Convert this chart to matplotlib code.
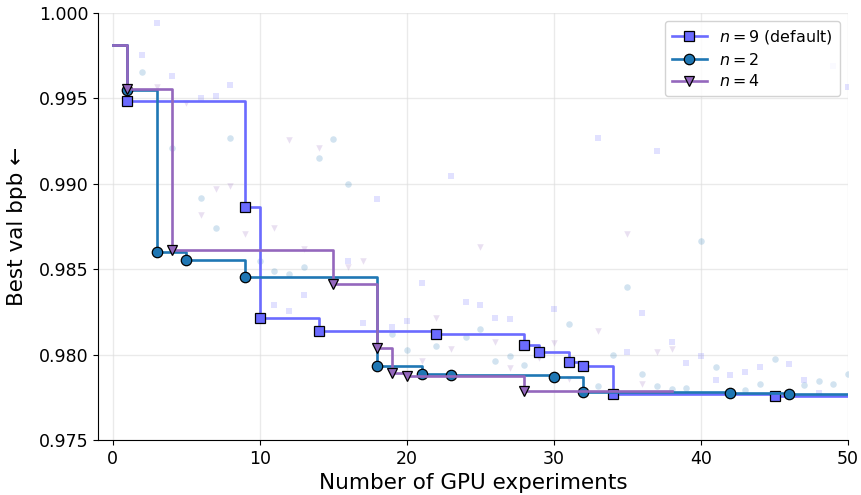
import matplotlib
matplotlib.use("Agg")
import matplotlib.pyplot as plt

# Validation bpb of the starting configuration (experiment 0)
BASELINE = 0.9981

# n = 9 (default): experiment index and resulting val bpb
n9_exp = [1, 2, 3, 4, 6, 7, 8, 9, 10, 11, 12, 13, 14, 16, 17, 18, 19, 20, 21, 22,
          23, 24, 25, 26, 27, 28, 29, 30, 31, 32, 33, 34, 35, 36, 37, 38, 39, 40,
          41, 42, 43, 44, 45, 46, 47, 48, 49, 50]
n9_bpb = [0.99485, 0.99756, 0.99943, 0.99633, 0.99504, 0.99514, 0.99580, 0.98863,
          0.98216, 0.98292, 0.98257, 0.98351, 0.98140, 0.98550, 0.98187, 0.98913,
          0.98160, 0.98199, 0.98421, 0.98119, 0.99047, 0.98310, 0.98290, 0.98214,
          0.98208, 0.98056, 0.98013, 0.98267, 0.97958, 0.97933, 0.99270, 0.97771,
          0.98015, 0.98245, 0.99194, 0.98075, 0.97953, 0.97994, 0.97853, 0.97882,
          0.97896, 0.97929, 0.97756, 0.97947, 0.97853, 0.97773, 0.99691, 0.99567]

# n = 2
n2_exp = [1, 2, 3, 4, 5, 6, 7, 8, 9, 10, 11, 12, 13, 14, 15, 16, 18, 19, 20, 21,
          22, 23, 24, 25, 26, 27, 28, 30, 31, 32, 33, 34, 35, 36, 37, 38, 39, 40,
          41, 42, 43, 44, 45, 46, 47, 48, 49, 50]
n2_bpb = [0.99550, 0.99655, 0.98602, 0.99210, 0.98554, 0.98915, 0.98739, 0.99268,
          0.98454, 0.98550, 0.98491, 0.98470, 0.98511, 0.99149, 0.99264, 0.98999,
          0.97935, 0.98121, 0.98027, 0.97888, 0.98052, 0.97881, 0.98105, 0.98148,
          0.97962, 0.97992, 0.97937, 0.97871, 0.98181, 0.97783, 0.97816, 0.97998,
          0.98394, 0.97888, 0.97814, 0.97799, 0.97804, 0.98665, 0.97926, 0.97775,
          0.97790, 0.97826, 0.97976, 0.97767, 0.97820, 0.97844, 0.97830, 0.97886]

# n = 4
n4_exp = [1, 3, 4, 5, 6, 7, 8, 9, 11, 12, 13, 14, 15, 16, 17, 18, 19, 20, 21, 22,
          23, 25, 26, 27, 28, 29, 30, 31, 33, 35, 36, 37, 38]
n4_bpb = [0.99555, 0.99565, 0.98610, 0.99471, 0.98817, 0.98968, 0.98987, 0.98704,
          0.98741, 0.99256, 0.98618, 0.99210, 0.98413, 0.98511, 0.98550, 0.98040,
          0.97890, 0.97875, 0.97962, 0.98212, 0.98033, 0.98632, 0.98072, 0.97920,
          0.97785, 0.97978, 0.98066, 0.97857, 0.98140, 0.98706, 0.97828, 0.98015,
          0.98033]

series = [
    ("$n=9$ (default)", n9_exp, n9_bpb, "#6b6bff", "s"),
    ("$n=2$", n2_exp, n2_bpb, "#1f77b4", "o"),
    ("$n=4$", n4_exp, n4_bpb, "#9467bd", "v"),
]


def best_so_far(exp, bpb):
    """Running-best curve: start at the baseline, add a point at each new best."""
    xs, ys = [0], [BASELINE]
    best = BASELINE
    for x, v in zip(exp, bpb):
        if v < best:
            best = v
            xs.append(x)
            ys.append(v)
    n_improve = len(xs) - 1
    xs.append(exp[-1])
    ys.append(best)
    return xs, ys, list(range(1, n_improve + 1))


fig = plt.figure(figsize=(8.62, 4.95), dpi=100)
ax = fig.add_axes([0.1137, 0.1111, 0.8701, 0.8626])

for label, exp, bpb, color, marker in series:
    # every individual run, faint
    ax.scatter(exp, bpb, marker=marker, s=22, color=color, alpha=0.2,
               linewidths=0, zorder=1)

for i, (label, exp, bpb, color, marker) in enumerate(series):
    xs, ys, marks = best_so_far(exp, bpb)
    ax.plot(xs, ys, drawstyle="steps-post", color=color, lw=1.9,
            marker=marker, markevery=marks, markersize=7.5,
            markerfacecolor=color, markeredgecolor="black",
            markeredgewidth=0.9, label=label, zorder=3 + i)

ax.set_xlim(-1, 50)
ax.set_ylim(0.975, 1.0)
ax.set_xticks(range(0, 51, 10))
ax.set_yticks([0.975, 0.980, 0.985, 0.990, 0.995, 1.000])
ax.yaxis.set_major_formatter(matplotlib.ticker.FormatStrFormatter("%.3f"))
ax.tick_params(labelsize=12.5)

ax.grid(True, color="#dddddd", alpha=0.6, lw=1.0)
ax.set_axisbelow(True)
for side in ("top", "right"):
    ax.spines[side].set_visible(False)

ax.set_xlabel("Number of GPU experiments", fontsize=15.5, labelpad=3.5)
ax.set_ylabel("Best val bpb \u2190", fontsize=15.5, labelpad=8)

ax.legend(loc="upper right", fontsize=11.4, framealpha=0.85,
          handlelength=2.2, borderpad=0.45, labelspacing=0.35)

fig.savefig("out.png", dpi=100)
